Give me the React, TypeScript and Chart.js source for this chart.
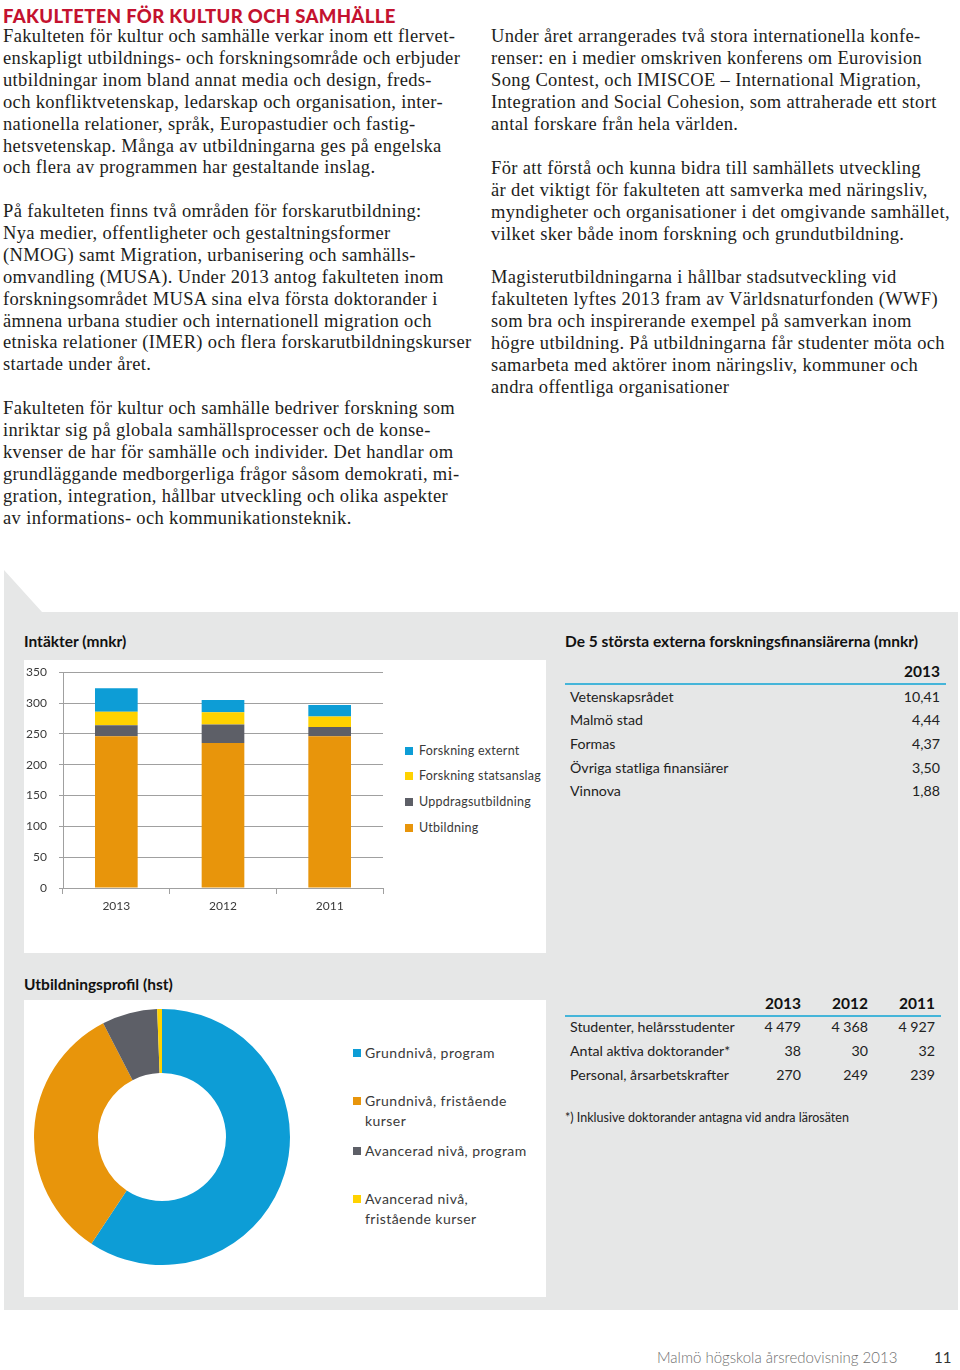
import React, { useEffect, useRef } from "react";
import { Chart, registerables } from "chart.js";

Chart.register(...registerables);

// ---------- Data ----------
const years = ["2013", "2012", "2011"];
const seriesLabels = ["Utbildning", "Uppdragsutbildning", "Forskning statsanslag", "Forskning externt"];
const utbildning = [246, 235, 246];
const uppdragsutbildning = [18, 30, 15];
const forskningStatsanslag = [22, 20, 17];
const forskningExternt = [38, 20, 19];
const yTicks = [0, 50, 100, 150, 200, 250, 300, 350];

const profileLabels = ["Grundnivå, program", "Grundnivå, fristående kurser", "Avancerad nivå, program", "Avancerad nivå, fristående kurser"];
const profileLegendLines = [["Grundnivå, program"], ["Grundnivå, fristående", "kurser"], ["Avancerad nivå, program"], ["Avancerad nivå,", "fristående kurser"]];
const profileValues = [59.3, 33.1, 7.0, 0.6];

const funderNames = ["Vetenskapsrådet", "Malmö stad", "Formas", "Övriga statliga finansiärer", "Vinnova"];
const funderValues = [10.41, 4.44, 4.37, 3.5, 1.88];

const keyYears = ["2013", "2012", "2011"];
const keyRowLabels = ["Studenter, helårsstudenter", "Antal aktiva doktorander*", "Personal, årsarbetskrafter"];
const studenter = [4479, 4368, 4927];
const doktorander = [38, 30, 32];
const personal = [270, 249, 239];

const leftParagraphs = [
  [
    "Fakulteten för kultur och samhälle verkar inom ett flervet-",
    "enskapligt utbildnings- och forskningsområde och erbjuder",
    "utbildningar inom bland annat media och design, freds-",
    "och konfliktvetenskap, ledarskap och organisation, inter-",
    "nationella relationer, språk, Europastudier och fastig-",
    "hetsvetenskap. Många av utbildningarna ges på engelska",
    "och flera av programmen har gestaltande inslag.",
  ],
  [
    "På fakulteten finns två områden för forskarutbildning:",
    "Nya medier, offentligheter och gestaltningsformer",
    "(NMOG) samt Migration, urbanisering och samhälls-",
    "omvandling (MUSA). Under 2013 antog fakulteten inom",
    "forskningsområdet MUSA sina elva första doktorander i",
    "ämnena urbana studier och internationell migration och",
    "etniska relationer (IMER) och flera forskarutbildningskurser",
    "startade under året.",
  ],
  [
    "Fakulteten för kultur och samhälle bedriver forskning som",
    "inriktar sig på globala samhällsprocesser och de konse-",
    "kvenser de har för samhälle och individer. Det handlar om",
    "grundläggande medborgerliga frågor såsom demokrati, mi-",
    "gration, integration, hållbar utveckling och olika aspekter",
    "av informations- och kommunikationsteknik.",
  ],
];
const leftStarts = [37, 212, 409];

const rightParagraphs = [
  [
    "Under året arrangerades två stora internationella konfe-",
    "renser: en i medier omskriven konferens om Eurovision",
    "Song Contest, och IMISCOE – International Migration,",
    "Integration and Social Cohesion, som attraherade ett stort",
    "antal forskare från hela världen.",
  ],
  [
    "För att förstå och kunna bidra till samhällets utveckling",
    "är det viktigt för fakulteten att samverka med näringsliv,",
    "myndigheter och organisationer i det omgivande samhället,",
    "vilket sker både inom forskning och grundutbildning.",
  ],
  [
    "Magisterutbildningarna i hållbar stadsutveckling vid",
    "fakulteten lyftes 2013 fram av Världsnaturfonden (WWF)",
    "som bra och inspirerande exempel på samverkan inom",
    "högre utbildning. På utbildningarna får studenter möta och",
    "samarbeta med aktörer inom näringsliv, kommuner och",
    "andra offentliga organisationer",
  ],
];
const rightStarts = [37, 169, 278];

// ---------- Styles ----------
const C_BLUE = "#0d9dd6";
const C_YELLOW = "#ffd200";
const C_GRAY = "#5d5f67";
const C_ORANGE = "#e8950b";
const barColors = [C_ORANGE, C_GRAY, C_YELLOW, C_BLUE];
const donutColors = [C_BLUE, C_ORANGE, C_GRAY, C_YELLOW];
const PANEL = "#e6e7e7";
const SANS = "Lato, 'Open Sans', 'Noto Sans', sans-serif";
const SERIF = "'Liberation Serif', 'DejaVu Serif', serif";
const LH = 21.9;

const fmtDec = (v: number) => v.toFixed(2).replace(".", ",");
const fmtInt = (v: number) => String(v).replace(/\B(?=(\d{3})+(?!\d))/g, "\u00a0");

function abs(left: number, top: number, extra: React.CSSProperties = {}): React.CSSProperties {
  return { position: "absolute", left, top, whiteSpace: "nowrap", ...extra };
}

function TextColumn({ paras, starts, x }: { paras: string[][]; starts: number[]; x: number }) {
  const out: React.ReactNode[] = [];
  paras.forEach((p, pi) =>
    p.forEach((line, li) => {
      out.push(
        <div
          key={pi + "-" + li}
          style={abs(x, starts[pi] + li * LH - LH / 2, {
            fontFamily: SERIF,
            fontSize: 18.5,
            letterSpacing: 0.35,
            lineHeight: LH + "px",
            color: "#1d1d1b",
          })}
        >
          {line}
        </div>
      );
    })
  );
  return <>{out}</>;
}

const BAR_TOP = 653;
const BAR_H = 287;

function BarChart() {
  const ref = useRef<HTMLCanvasElement>(null);
  useEffect(() => {
    const tickFont = { family: SANS, size: 12 };
    const chart = new Chart(ref.current!, {
      type: "bar",
      data: {
        labels: years,
        datasets: [utbildning, uppdragsutbildning, forskningStatsanslag, forskningExternt].map((d, i) => ({
          label: seriesLabels[i],
          data: d,
          backgroundColor: barColors[i],
          borderWidth: 0,
          categoryPercentage: 1,
          barPercentage: 0.4,
        })),
      },
      options: {
        responsive: false,
        animation: false,
        events: [],
        layout: { padding: { top: 0, right: 5, left: 0, bottom: 0 } },
        plugins: { legend: { display: false }, tooltip: { enabled: false } },
        scales: {
          x: {
            stacked: true,
            grid: { offset: true, drawOnChartArea: false, tickLength: 6, color: "#a0a0a0" },
            border: { color: "#a0a0a0" },
            ticks: { font: tickFont, color: "#3a3a3a", padding: 5 },
            afterFit: (s: any) => {
              s.height = BAR_TOP + BAR_H - 888;
            },
          },
          y: {
            stacked: true,
            min: 0,
            max: 350,
            afterBuildTicks: (s: any) => {
              s.ticks = yTicks.map((v) => ({ value: v }));
            },
            ticks: { font: tickFont, color: "#3a3a3a", padding: 12 },
            grid: { color: "#a0a0a0", tickLength: 4 },
            border: { color: "#a0a0a0" },
            afterFit: (s: any) => {
              s.width = 39;
            },
          },
        },
      },
    });
    return () => chart.destroy();
  }, []);
  return <canvas ref={ref} width={364} height={BAR_H} style={abs(24, BAR_TOP, { width: 364, height: BAR_H })} />;
}

function DonutChart() {
  const ref = useRef<HTMLCanvasElement>(null);
  useEffect(() => {
    const chart = new Chart(ref.current!, {
      type: "doughnut",
      data: {
        labels: profileLabels,
        datasets: [{ data: profileValues, backgroundColor: donutColors, borderWidth: 0 }],
      },
      options: {
        responsive: false,
        animation: false,
        events: [],
        cutout: "50%",
        layout: { padding: 0 },
        plugins: { legend: { display: false }, tooltip: { enabled: false } },
      },
    });
    return () => chart.destroy();
  }, []);
  return <canvas ref={ref} width={256} height={256} style={abs(34, 1009, { width: 256, height: 256 })} />;
}

export default function App() {
  const legendOrder = [3, 2, 1, 0];
  const barLegendY = [751, 776, 802, 828];
  const donutLegendY = [1053, 1101, 1151, 1199];
  const funderY = [697, 720, 744, 768, 791];
  const keyRows = [studenter, doktorander, personal];
  const keyRowY = [1027, 1051, 1075];
  const keyColRight = [801, 868, 935];

  const tableText: React.CSSProperties = { fontFamily: SANS, fontSize: 14.2, color: "#222", lineHeight: "18px" };
  const headText: React.CSSProperties = { fontFamily: SANS, fontSize: 15.5, fontWeight: 700, color: "#111", lineHeight: "18px" };

  return (
    <div style={{ position: "absolute", left: 0, top: 0, width: 960, height: 1370, background: "#fff", overflow: "hidden" }}>
      {/* Heading */}
      <div
        style={abs(3, 4, {
          fontFamily: SANS,
          fontWeight: 900,
          fontSize: 18.5,
          color: "#c4122f",
          lineHeight: "24px",
          letterSpacing: 0.35,
        })}
      >
        FAKULTETEN FÖR KULTUR OCH SAMHÄLLE
      </div>
      <TextColumn paras={leftParagraphs} starts={leftStarts} x={3} />
      <TextColumn paras={rightParagraphs} starts={rightStarts} x={491} />

      {/* Gray panel */}
      <div
        style={{
          position: "absolute",
          left: 4,
          top: 570,
          width: 954,
          height: 740,
          background: PANEL,
          clipPath: "polygon(0px 0px, 38px 42px, 954px 42px, 954px 740px, 0px 740px)",
        }}
      />
      <div style={{ position: "absolute", left: 24, top: 660, width: 522, height: 293, background: "#fff" }} />
      <div style={{ position: "absolute", left: 24, top: 1000, width: 522, height: 297, background: "#fff" }} />

      {/* Titles */}
      <div style={abs(24, 632, headText)}>Intäkter (mnkr)</div>
      <div style={abs(565, 632, headText)}>De 5 största externa forskningsfinansiärerna (mnkr)</div>
      <div style={abs(24, 975, headText)}>Utbildningsprofil (hst)</div>

      <BarChart />
      {legendOrder.map((si, i) => (
        <React.Fragment key={si}>
          <div style={{ position: "absolute", left: 405, top: barLegendY[i] - 4, width: 8, height: 8, background: barColors[si] }} />
          <div
            style={abs(419, barLegendY[i] - 8, {
              fontFamily: SANS,
              fontSize: 12.5,
              letterSpacing: 0.25,
              color: "#3a3a3a",
              lineHeight: "16px",
            })}
          >
            {seriesLabels[si]}
          </div>
        </React.Fragment>
      ))}

      <DonutChart />
      {profileLegendLines.map((lines, i) => (
        <React.Fragment key={i}>
          <div style={{ position: "absolute", left: 353, top: donutLegendY[i] - 4, width: 8, height: 8, background: donutColors[i] }} />
          {lines.map((ln, j) => (
            <div
              key={j}
              style={abs(365, donutLegendY[i] - 9 + j * 20, {
                fontFamily: SANS,
                fontSize: 14,
                letterSpacing: 0.45,
                color: "#3a3a3a",
                lineHeight: "18px",
              })}
            >
              {ln}
            </div>
          ))}
        </React.Fragment>
      ))}

      {/* Funders table */}
      <div style={abs(880, 662, { ...headText, width: 60, textAlign: "right" })}>2013</div>
      <div style={{ position: "absolute", left: 565, top: 683, width: 381, height: 2, background: "#45b5d9" }} />
      {funderNames.map((n, i) => (
        <React.Fragment key={n}>
          <div style={abs(570, funderY[i] - 9, tableText)}>{n}</div>
          <div style={abs(860, funderY[i] - 9, { ...tableText, width: 80, textAlign: "right" })}>{fmtDec(funderValues[i])}</div>
        </React.Fragment>
      ))}

      {/* Key figures table */}
      {keyYears.map((y, i) => (
        <div key={y} style={abs(keyColRight[i] - 60, 994, { ...headText, width: 60, textAlign: "right" })}>
          {y}
        </div>
      ))}
      <div style={{ position: "absolute", left: 565, top: 1015, width: 376, height: 2, background: "#45b5d9" }} />
      {keyRowLabels.map((lab, r) => (
        <React.Fragment key={lab}>
          <div style={abs(570, keyRowY[r] - 9, tableText)}>{lab}</div>
          {keyRows[r].map((v, c) => (
            <div key={c} style={abs(keyColRight[c] - 60, keyRowY[r] - 9, { ...tableText, width: 60, textAlign: "right" })}>
              {fmtInt(v)}
            </div>
          ))}
        </React.Fragment>
      ))}
      <div style={abs(565, 1110, { fontFamily: SANS, fontSize: 12.5, color: "#222", lineHeight: "16px" })}>
        *) Inklusive doktorander antagna vid andra lärosäten
      </div>

      {/* Footer */}
      <div style={abs(657, 1348, { fontFamily: SANS, fontSize: 15, fontWeight: 300, color: "#6f6f6f", lineHeight: "18px" })}>
        Malmö högskola årsredovisning 2013
      </div>
      <div style={abs(934, 1348, { fontFamily: SANS, fontSize: 15, color: "#333", lineHeight: "18px" })}>11</div>
    </div>
  );
}
